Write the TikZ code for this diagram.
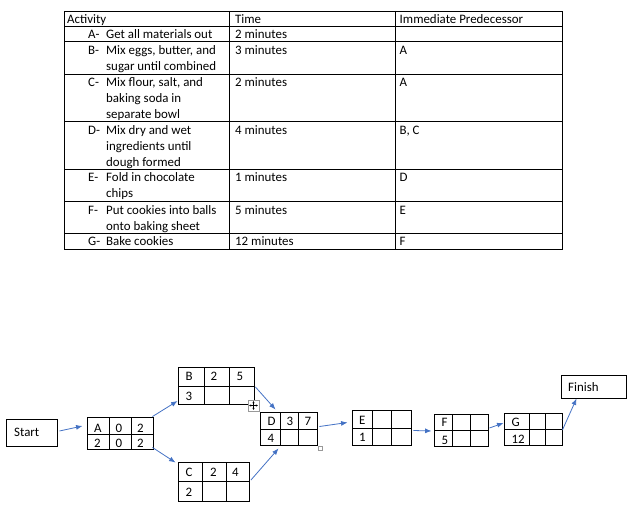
\documentclass[tikz,border=0pt]{standalone}
\usepackage{fontspec}
\setmainfont{Carlito}
\usetikzlibrary{arrows.meta,calc,fit}
\definecolor{linkblue}{HTML}{4472C4}
\newcommand{\tabfont}{\fontsize{12.9}{16}\selectfont}
\tikzset{
  tabtext/.style={anchor=north west, inner sep=0pt, align=left, font=\tabfont},
  celltxt/.style={anchor=base west, inner sep=0pt, font=\tabfont},
  netbox/.style={draw, line width=0.9pt, inner sep=0pt},
  link/.style={->, linkblue, line width=0.8pt},
}
% activity box: name, x1, y1, x2, y2, first split, second split, row split
\newcommand{\actbox}[8]{%
  \node[netbox, fit={(#2,#3) (#4,#5)}] (#1) {};
  \draw[line width=0.9pt] (#6,#3) -- (#6,#5) (#7,#3) -- (#7,#5) (#2,#8) -- (#4,#8);
}
\begin{document}
\begin{tikzpicture}[x=1pt, y=-1pt, >={Latex[length=6.5pt,width=5pt]}]
\useasboundingbox (0,0) rectangle (633,527);
% table
\draw[line width=0.8pt] (64,11) rectangle (562,249);
\foreach \y in {26,41.5,74,121.5,169,201.5,233}
  \draw[line width=0.8pt] (64,\y) -- (562,\y);
\draw[line width=0.8pt] (229,11) -- (229,249) (395,11) -- (395,249);
\node[tabtext] (hdr-act) at (67,12.4) {\strut Activity};
\node[tabtext] (hdr-time) at (235,12.4) {\strut Time};
\node[tabtext] (hdr-pred) at (399.5,12.4) {\strut Immediate Predecessor};
\foreach \r/\y/\what/\t/\p in {
    A/27.4/{Get all materials out}/{2 minutes}/{},
    B/42.9/{Mix eggs, butter, and\\sugar until combined}/{3 minutes}/A,
    C/75.4/{Mix flour, salt, and\\baking soda in\\separate bowl}/{2 minutes}/A,
    D/122.9/{Mix dry and wet\\ingredients until\\dough formed}/{4 minutes}/{B, C},
    E/170.4/{Fold in chocolate\\chips}/{1 minutes}/D,
    F/202.9/{Put cookies into balls\\onto baking sheet}/{5 minutes}/E,
    G/234.4/{Bake cookies}/{12 minutes}/F} {
  \node[tabtext] (lbl\r) at (88,\y) {\strut\r-};
  \node[tabtext] (act\r) at (106,\y) {\strut\what};
  \node[tabtext] (time\r) at (235,\y) {\strut\t};
  \node[tabtext] (pred\r) at (399.5,\y) {\strut\p};
}
% network
\node[netbox, fit={(6,419) (57,446)}] (Start) {};
\node[celltxt] (Start-txt) at (14,436) {Start};
\node[netbox, fit={(561,375) (626,398)}] (Finish) {};
\node[celltxt] (Finish-txt) at (568,391.7) {Finish};
\actbox{A}{87}{417}{153}{449}{109.7}{131.7}{434}
\actbox{B}{178}{367}{254}{404}{204.3}{229.3}{386.7}
\actbox{C}{178}{462}{249}{501}{202.3}{226.7}{481.7}
\actbox{D}{260}{412}{317}{445}{280.3}{298.7}{429.3}
\actbox{E}{352}{410}{411}{445}{372.3}{391.7}{428}
\actbox{F}{434}{414}{488}{446}{452.3}{470.3}{430}
\actbox{G}{504}{413}{562}{445}{529}{545.7}{429}
\foreach \n/\x/\y/\t in {
    A-11/94/432.3/A, A-12/115.5/432.3/0, A-13/137/432.3/2,
    A-21/94/447.3/2, A-22/115.5/447.3/0, A-23/137/447.3/2,
    B-11/185.5/380.7/B, B-12/210.5/380.7/2, B-13/236.5/380.7/5, B-21/185.5/400/3,
    C-11/185.5/476/C, C-12/210/476/2, C-13/232/476/4, C-21/185.5/496/2,
    D-11/267.5/425.7/D, D-12/286.5/425.7/3, D-13/304.5/425.7/7, D-21/267.5/442.7/4,
    E-11/359/424.3/E, E-21/359/441.7/1,
    F-11/441.5/426.7/F, F-21/441.5/444/5,
    G-11/511.5/426.7/G, G-21/511.5/443.3/12}
  \node[celltxt] (\n) at (\x,\y) {\t};
% connectors
\draw[link] ($(Start.east)+(2,-1.5)$) -- ($(A.west)+(-4,-7)$);
\draw[link] ($(A.north east)+(-1,0)$) -- ($(B.south west)+(0,-3.5)$);
\draw[link] ($(A.south east)+(-1,-2)$) -- ($(C.north west)+(-2,1)$);
\draw[link] ($(B.east)+(1,1.5)$) -- ($(D.north west)+(16,-2)$);
\draw[link] ($(C.east)+(1.5,-1.5)$) -- ($(D.south west)+(19,3)$);
\draw[link] ($(D.east)+(2,-2)$) -- ($(E.west)+(-4,-5)$);
\draw[link] ($(E.east)+(2,3)$) -- ($(F.west)+(-2,1)$);
\draw[link] ($(F.east)+(1,-2)$) -- ($(G.west)+(0,-6)$);
\draw[link] ($(G.east)+(0,1)$) -- ($(Finish.south west)+(16,0)$);
% table handles
\node[draw=gray!80, fill=white, line width=0.6pt, inner sep=0pt, fit={(248,400) (259,411)}] (movehandle) {};
\draw[<->, >={Stealth[length=2pt,width=2.2pt]}, line width=0.4pt]
  ($(movehandle.west)+(1.5,0)$) -- ($(movehandle.east)+(-1.5,0)$);
\draw[<->, >={Stealth[length=2pt,width=2.2pt]}, line width=0.4pt]
  ($(movehandle.north)+(0,1.5)$) -- ($(movehandle.south)+(0,-1.5)$);
\node[draw=gray!80, fill=white, line width=0.6pt, inner sep=0pt, fit={(318,446) (322.5,450.5)}] (sizehandle) {};
\end{tikzpicture}
\end{document}
